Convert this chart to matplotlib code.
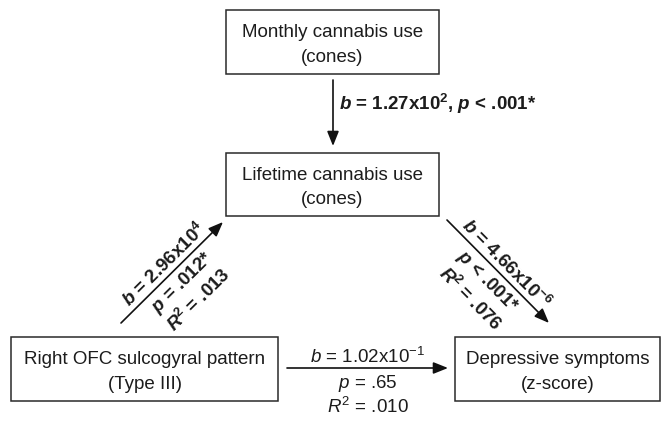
import numpy as np
import matplotlib
matplotlib.use("Agg")
import matplotlib.pyplot as plt
from matplotlib.patches import Rectangle, FancyArrowPatch

plt.rcParams["font.family"] = ["Liberation Sans", "DejaVu Sans"]
plt.rcParams["mathtext.fontset"] = "custom"
plt.rcParams["mathtext.rm"] = "Liberation Sans"
plt.rcParams["mathtext.it"] = "Liberation Sans:italic"
plt.rcParams["mathtext.bf"] = "Liberation Sans:bold"
plt.rcParams["mathtext.bfit"] = "Liberation Sans:italic:bold"

# Nodes of the path model
nodes = ["Monthly cannabis use\n(cones)",
         "Lifetime cannabis use\n(cones)",
         "Right OFC sulcogyral pattern\n(Type III)",
         "Depressive symptoms\n(z-score)"]

# Paths: monthly->lifetime, OFC->lifetime, lifetime->depression, OFC->depression
b_mantissa = ["1.27", "2.96", "4.66", "1.02"]
b_exponent = ["2", "4", "-6", "-1"]
p_values = ["< .001*", "= .012*", "< .001*", "= .65"]
r2_values = [None, ".013", ".076", ".010"]
significant = [True, True, True, False]

# layout (pixel coords, y down)
box_xy = [(226, 10, 213, 64), (226, 153, 213, 63), (11, 337, 267, 64), (455, 337, 205, 64)]
arrows = [((333, 80), (333, 146)), ((121, 323), (223, 222)),
          ((447, 220), (549, 323)), ((287, 368), (448, 368))]

FS = 13.5
INK = "#1c1c1c"

fig = plt.figure(figsize=(6.62, 4.21), dpi=100)
ax = fig.add_axes([0, 0, 1, 1])
ax.set_xlim(0, 662)
ax.set_ylim(421, 0)
ax.axis("off")

for label, (x, y, w, h) in zip(nodes, box_xy):
    ax.add_patch(Rectangle((x, y), w, h, facecolor="white", edgecolor="#2a2a2a", lw=1.1))
    ax.text(x + w / 2, y + h / 2 + 3, label, ha="center", va="center",
            fontsize=FS, color=INK, linespacing=1.55)

for (p0, p1) in arrows:
    ax.add_patch(FancyArrowPatch(p0, p1, arrowstyle="-|>,head_length=0.8,head_width=0.32",
                                 mutation_scale=11, lw=1.2, color="#111111",
                                 shrinkA=0, shrinkB=0))


def stat_lines(i):
    if significant[i]:
        it, num = r"\mathbfit", r"\mathbf"
    else:
        it, num = r"\mathit", r"\mathrm"
    b = "$%s{b}$ = %sx10$^{%s{%s}}$" % (it, b_mantissa[i], num, b_exponent[i])
    p = "$%s{p}$ %s" % (it, p_values[i])
    r2 = None
    if r2_values[i] is not None:
        r2 = "$%s{R}^{%s{2}}$ = %s" % (it, num, r2_values[i])
    return b, p, r2


# top vertical path: single line to the right of the arrow
b, p, _ = stat_lines(0)
ax.text(339, 104, b + ", " + p, ha="left", va="center", fontsize=FS,
        fontweight="bold", color=INK)

# other paths: b above the arrow, p and R2 below
offsets = [11, -15, -39]
for i in [1, 2, 3]:
    (x0, y0), (x1, y1) = arrows[i]
    mid = np.array([(x0 + x1) / 2, (y0 + y1) / 2])
    d = np.array([x1 - x0, y1 - y0], dtype=float)
    d /= np.hypot(*d)
    # normal pointing "up" on screen (y is inverted)
    n = np.array([d[1], -d[0]])
    if n[1] > 0:
        n = -n
    rot = -np.degrees(np.arctan2(d[1], d[0]))
    weight = "bold" if significant[i] else "normal"
    for txt, off in zip(stat_lines(i), offsets):
        if txt is None:
            continue
        pos = mid + n * off
        ax.text(pos[0], pos[1], txt, ha="center", va="center", rotation=rot,
                rotation_mode="anchor", fontsize=FS, fontweight=weight, color=INK)

fig.savefig("out.png", dpi=100, facecolor="white")
